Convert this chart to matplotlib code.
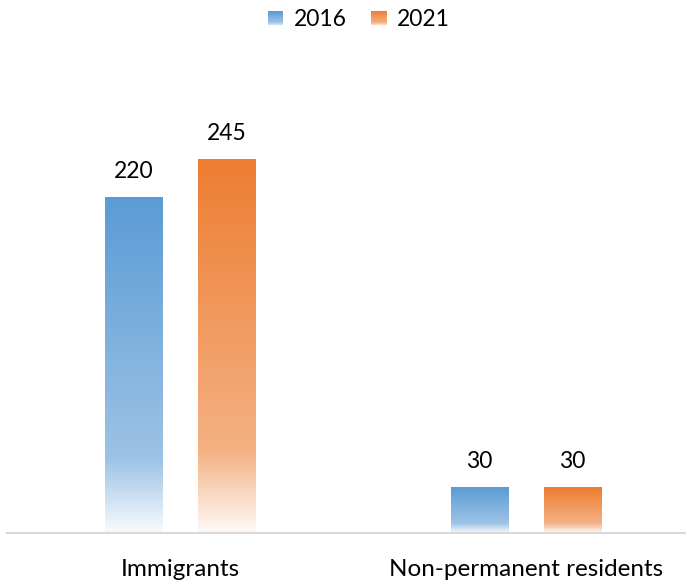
import numpy as np
import matplotlib.pyplot as plt
from matplotlib.colors import LinearSegmentedColormap, to_rgb
from matplotlib.legend_handler import HandlerBase
from matplotlib.patches import Rectangle

plt.rcParams['font.family'] = ['Lato', 'DejaVu Sans']

################################################################################
# Data

categories = ['Immigrants', 'Non-permanent residents']
years = ['2016', '2021']
values2016 = [220, 30]
values2021 = [245, 30]
colours = ['#5B9BD5', '#ED7D31']

################################################################################
# Subroutines

def mix(c, f):
	# blend colour c with white, f = fraction of white
	c = np.array(to_rgb(c))
	return tuple(c + (1 - c) * f)

def gradCmap(c):
	# top of bar -> bottom of bar
	return LinearSegmentedColormap.from_list('g', [(0, mix(c, 0.0)), (0.78, mix(c, 0.4)), (1.0, mix(c, 0.96))])

def gradBar(ax, x, h, w, c):
	bar = ax.bar(x, h, w, color='none', edgecolor='none')[0]
	grad = np.linspace(0, 1, 256).reshape(-1, 1)
	im = ax.imshow(grad, cmap=gradCmap(c), aspect='auto', extent=[x - w/2, x + w/2, 0, h], origin='upper', zorder=2)
	im.set_clip_path(bar)
	return bar

class GradHandler(HandlerBase):
	def __init__(self, c):
		HandlerBase.__init__(self)
		self.c = c

	def create_artists(self, legend, orig, xd, yd, width, height, fontsize, trans):
		cm = gradCmap(self.c)
		n = 20
		side = height * 0.95
		x0 = xd + width - side
		arts = []
		for i in range(n):
			r = Rectangle((x0, yd + side - (i + 1) * side / n), side, side / n + 0.3,
				facecolor=cm(i / (n - 1)), edgecolor='none', transform=trans)
			arts.append(r)
		return arts

################################################################################
# Main

fig = plt.figure(figsize=(6.86, 5.8), dpi=100)
ax = fig.add_axes([7/686, 47/580, 692/686, 458/580])

x = np.arange(len(categories))
w = 0.165
off = 0.134

for i in range(len(categories)):
	gradBar(ax, x[i] - off, values2016[i], w, colours[0])
	gradBar(ax, x[i] + off, values2021[i], w, colours[1])
	ax.annotate(str(values2016[i]), (x[i] - off, values2016[i]), xytext=(0, 11), textcoords='offset points', ha='center', va='bottom', fontsize=16.5)
	ax.annotate(str(values2021[i]), (x[i] + off, values2021[i]), xytext=(0, 11), textcoords='offset points', ha='center', va='bottom', fontsize=16.5)

ax.set_xlim(-0.5, 1.5)
ax.set_ylim(0, 300)
ax.set_xticks(x)
ax.set_xticklabels(categories, fontsize=17.5)
ax.tick_params(axis='x', length=0, pad=18.5)
ax.set_yticks([])
for s in ['top', 'right', 'left']:
	ax.spines[s].set_visible(False)
ax.spines['bottom'].set_color('#D9D9D9')
ax.spines['bottom'].set_linewidth(1.5)

h1 = Rectangle((0, 0), 1, 1)
h2 = Rectangle((0, 0), 1, 1)
fig.legend([h1, h2], years, loc='center', bbox_to_anchor=(358/686, 1 - 20/580), ncol=2, frameon=False,
	fontsize=16.5, handler_map={h1: GradHandler(colours[0]), h2: GradHandler(colours[1])},
	handlelength=0.75, handletextpad=0.45, columnspacing=1.0)

plt.savefig('out.png', dpi=100)
